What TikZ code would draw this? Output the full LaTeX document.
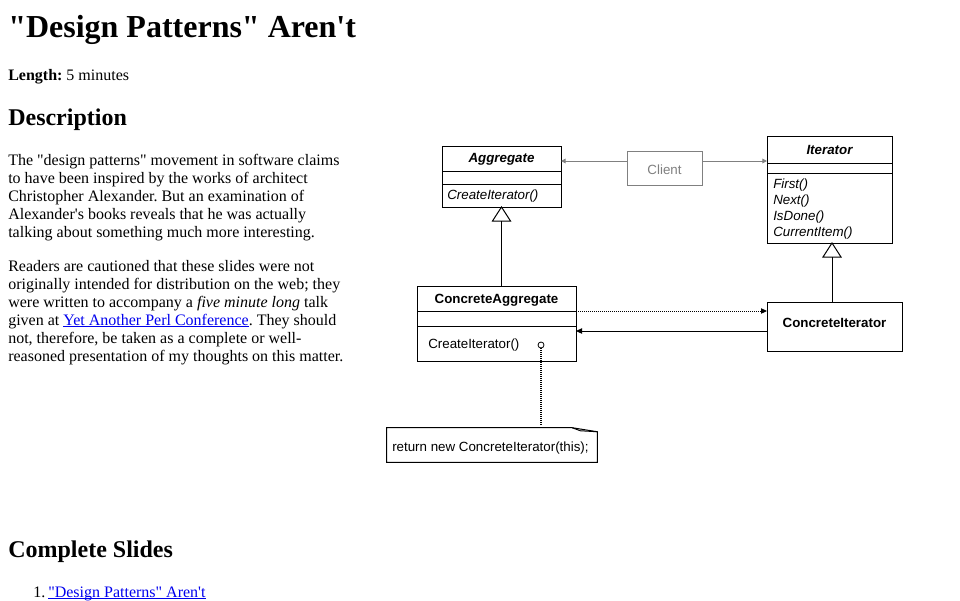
\documentclass[tikz,border=0pt]{standalone}
\usepackage{fontspec}
\setmainfont{Liberation Serif}[Ligatures=TeXOff]
\newfontfamily\umlfont{Liberation Sans}[Ligatures=TeXOff]
\usetikzlibrary{arrows.meta,calc,fit}
\definecolor{linkblue}{RGB}{0,0,238}
\definecolor{clientgray}{RGB}{128,128,128}
\newcommand{\weblink}[1]{{\color{linkblue}\setbox0\hbox{#1}\rlap{\rule[-1.6pt]{\wd0}{0.75pt}}\box0}}
\frenchspacing

\begin{document}
\begin{tikzpicture}[x=0.75pt,y=-0.75pt,
    body/.style={anchor=base west,inner sep=0pt,font=\fontsize{12}{14}\selectfont},
    hone/.style={anchor=base west,inner sep=0pt,font=\fontsize{24}{28}\selectfont\bfseries},
    htwo/.style={anchor=base west,inner sep=0pt,font=\fontsize{18}{21}\selectfont\bfseries},
    classbox/.style={draw,line width=0.75pt,inner sep=0pt,outer sep=0pt,fill=white},
    classname/.style={anchor=base,inner sep=0pt,font=\umlfont\fontsize{10}{12}\selectfont\bfseries},
    classop/.style={anchor=base west,inner sep=0pt,font=\umlfont\fontsize{10}{12}\selectfont},
    divider/.style={line width=0.75pt},
    inherit/.style={line width=0.75pt,fill=white},
    usesarrow/.style={clientgray,line width=0.75pt,-{Triangle[length=3.5pt,width=3.5pt]}},
    dotarrow/.style={line width=0.75pt,dash pattern=on 0.75pt off 0.75pt,-{Triangle[length=4.5pt,width=4pt]}},
    solidarrow/.style={line width=0.75pt,-{Triangle[length=4.5pt,width=4pt]}},
    notelink/.style={line width=1.5pt,dash pattern=on 0.75pt off 0.75pt},
    hookdot/.style={circle,draw,fill=white,inner sep=0pt,minimum size=4.5pt,line width=0.6pt}]
\useasboundingbox[fill=white] (0,0) rectangle (960,600);

\node[hone] (title) at (8,37) {"Design Patterns" Aren't};
\node[body] (length) at (8,80) {\textbf{Length:} 5 minutes};
\node[htwo] (desc) at (8,125) {Description};

\node[body] (pa1) at (8,165) {The "design patterns" movement in software claims};
\node[body] (pa2) at (8,183) {to have been inspired by the works of architect};
\node[body] (pa3) at (8,201) {Christopher Alexander. But an examination of};
\node[body] (pa4) at (8,219) {Alexander's books reveals that he was actually};
\node[body] (pa5) at (8,237) {talking about something much more interesting.};

\node[body] (pb1) at (8,271) {Readers are cautioned that these slides were not};
\node[body] (pb2) at (8,289) {originally intended for distribution on the web; they};
\node[body] (pb3) at (8,307) {were written to accompany a \textit{five minute long} talk};
\node[body] (pb4) at (8,325) {given at \weblink{Yet Another Perl Conference}. They should};
\node[body] (pb5) at (8,343) {not, therefore, be taken as a complete or well-};
\node[body] (pb6) at (8,361) {reasoned presentation of my thoughts on this matter.};

\node[htwo] (slides) at (8,557) {Complete Slides};
\node[body] (item) at (33,597) {1.};
\node[body] (itemlink) at (48,597) {\weblink{"Design Patterns" Aren't}};

% Aggregate
\node[classbox,fit={(442,146) (561,207)}] (agg) {};
\draw[divider] (agg.west |- 0,171) -- (agg.east |- 0,171);
\draw[divider] (agg.west |- 0,184) -- (agg.east |- 0,184);
\node[classname] (aggname) at (501.5,162) {\itshape Aggregate};
\node[classop] (aggop) at (447,199) {\itshape CreateIterator()};

% Client
\node[draw=clientgray,line width=0.75pt,inner sep=0pt,fit={(627,151) (702,185)}] (client) {};
\node[classop,anchor=base,text=clientgray] (clientname) at (664.5,174) {Client};

% Iterator
\node[classbox,fit={(767,136) (892,243)}] (it) {};
\draw[divider] (it.west |- 0,163) -- (it.east |- 0,163);
\draw[divider] (it.west |- 0,173) -- (it.east |- 0,173);
\node[classname] (itname) at (829.5,154) {\itshape Iterator};
\node[classop] (itfirst) at (773,188) {\itshape First()};
\node[classop] (itnext) at (773,204) {\itshape Next()};
\node[classop] (itdone) at (773,220) {\itshape IsDone()};
\node[classop] (itcur) at (773,236) {\itshape CurrentItem()};

% ConcreteAggregate
\node[classbox,fit={(417,286) (576,361)}] (cagg) {};
\draw[divider] (cagg.west |- 0,311) coordinate (cdiv) -- (cagg.east |- 0,311);
\draw[divider] (cagg.west |- 0,326.5) -- (cagg.east |- 0,326.5);
\node[classname] (caggname) at (496.5,303) {ConcreteAggregate};
\node[classop] (caggop) at (428,348) {CreateIterator()};
\node[hookdot] (hook) at (541,345) {};

% ConcreteIterator
\node[classbox,fit={(767,302) (902,351)}] (ci) {};
\node[classname] (ciname) at (834.5,327) {ConcreteIterator};

% note
\node[inner sep=0pt,fit={(387,428) (597,462)}] (note) {};
\draw[line width=0.75pt] (note.south west) -- (note.north west) -- ($(note.north east)+(-25,0)$)
  -- ($(note.north east)+(0,4)$) -- (note.south east) -- cycle;
\draw[line width=0.75pt] ($(note.north east)+(-25,0)$) -- ($(note.north east)+(-17,3)$) -- ($(note.north east)+(0,4)$);
\node[classop] (notetext) at (392,451) {return new ConcreteIterator(this);};

% connectors
\coordinate (cw) at ($(client.north west)!0.3!(client.south west)$);
\coordinate (ce) at ($(client.north east)!0.3!(client.south east)$);
\draw[usesarrow] (cw) -- (cw -| agg.east);
\draw[usesarrow] (ce) -- (ce -| it.west);

\draw[inherit] (agg.south) -- ++(-9,14) -- ++(18,0) -- cycle;
\draw[divider] ($(agg.south)+(0,14)$) -- (agg.south |- cagg.north);

\coordinate (itapex) at ($(it.south)+(2.5,0)$);
\draw[inherit] (itapex) -- ++(-9,14) -- ++(18,0) -- cycle;
\draw[divider] ($(itapex)+(0,14)$) -- (itapex |- ci.north);

\draw[dotarrow] (cdiv -| cagg.east) -- (cdiv -| ci.west);
\coordinate (cret) at ($(ci.north west)!0.592!(ci.south west)$);
\draw[solidarrow] (cret) -- (cret -| cagg.east);

\draw[notelink,shorten >=2pt] (hook.south) -- (hook.south |- note.north);
\end{tikzpicture}
\end{document}
